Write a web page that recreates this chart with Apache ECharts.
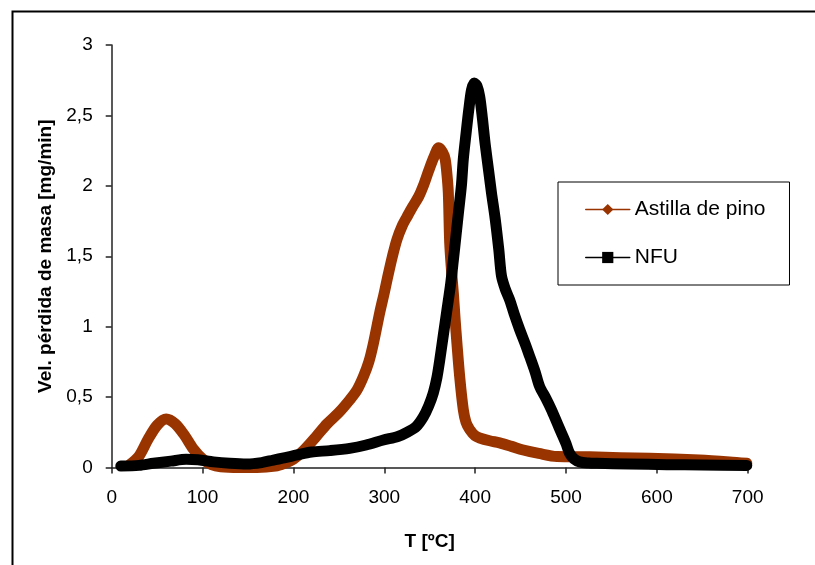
<!DOCTYPE html>
<html>
<head>
<meta charset="utf-8">
<script src="https://cdn.jsdelivr.net/npm/echarts@6/dist/echarts.min.js"></script>
<style>
html,body{margin:0;padding:0;background:#fff;}
#main{width:815px;height:565px;}
</style>
</head>
<body>
<div id="main"></div>
<script>
// Astilla de pino: temperature [ºC] and mass-loss rate [mg/min]
var astT = [20, 30, 40, 50, 60, 70, 80, 90, 100, 110, 120, 140, 160, 180, 190, 200, 211, 225, 237, 250, 262, 270, 277, 283, 288, 295, 300, 304, 309, 314, 320, 325, 331, 338, 343, 349, 355, 360, 364, 367, 369, 370.5, 372, 374, 376, 378, 380, 383, 387, 390, 394, 400, 405, 416, 427, 440, 453, 470, 490, 526, 560, 592, 647, 680, 699];
var astV = [0.02, 0.08, 0.2, 0.3, 0.345, 0.31, 0.23, 0.13, 0.06, 0.02, 0.005, 0.0, 0.0, 0.01, 0.03, 0.06, 0.12, 0.22, 0.31, 0.39, 0.48, 0.55, 0.645, 0.75, 0.88, 1.10, 1.24, 1.36, 1.5, 1.62, 1.72, 1.78, 1.85, 1.925, 2.0, 2.11, 2.21, 2.27, 2.24, 2.19, 2.08, 1.95, 1.6, 1.4, 1.24, 1.05, 0.88, 0.645, 0.41, 0.32, 0.27, 0.225, 0.21, 0.19, 0.175, 0.15, 0.124, 0.1, 0.078, 0.076, 0.07, 0.065, 0.053, 0.04, 0.03];

// NFU
var nfuT = [10, 30, 46, 65, 82, 95, 112, 130, 149, 165, 178, 191, 204, 220, 240, 262, 280, 299, 315, 325, 335, 343, 349, 354, 358, 361, 365, 369, 373, 376, 379, 382, 385, 387, 390, 393, 396, 399, 402, 405, 408, 411, 415, 418, 422, 426, 429, 433, 438, 443, 449, 455, 460, 466, 471, 478, 484, 490, 495, 500, 504, 509, 515, 525, 534, 570, 611, 650, 699];
var nfuV = [0.01, 0.015, 0.03, 0.045, 0.058, 0.055, 0.04, 0.03, 0.025, 0.035, 0.053, 0.07, 0.089, 0.11, 0.12, 0.136, 0.16, 0.195, 0.22, 0.25, 0.29, 0.36, 0.44, 0.53, 0.64, 0.76, 0.94, 1.12, 1.3, 1.47, 1.65, 1.83, 2.01, 2.19, 2.37, 2.54, 2.68, 2.73, 2.71, 2.635, 2.48, 2.30, 2.1, 1.95, 1.77, 1.55, 1.36, 1.27, 1.19, 1.09, 0.98, 0.88, 0.79, 0.68, 0.575, 0.49, 0.41, 0.32, 0.245, 0.17, 0.10, 0.06, 0.04, 0.032, 0.03, 0.025, 0.02, 0.018, 0.015];

var seriesNames = ['Astilla de pino', 'NFU'];
var xTicks = [0, 100, 200, 300, 400, 500, 600, 700];
var yTicks = [0, 0.5, 1, 1.5, 2, 2.5, 3];

function pairs(xs, ys) { return xs.map(function (x, i) { return [x, ys[i]]; }); }

var chart = echarts.init(document.getElementById('main'), null, {renderer: 'canvas'});
var font = 'Liberation Sans, Arial, sans-serif';
chart.setOption({
  animation: false,
  backgroundColor: '#fff',
  textStyle: {fontFamily: font},
  graphic: [{
    type: 'rect', left: 10, top: 9, silent: true,
    shape: {width: 900, height: 700},
    style: {fill: 'none', stroke: '#000', lineWidth: 2}
  }],
  grid: {left: 111.7, right: 67.3, top: 45, bottom: 97.5, containLabel: false},
  legend: {
    orient: 'vertical', left: 558, top: 182,
    padding: [17, 24, 17, 27], itemGap: 27,
    itemWidth: 44, itemHeight: 14,
    borderColor: '#000', borderWidth: 1,
    data: seriesNames,
    lineStyle: {width: 1.5},
    textStyle: {fontFamily: font, fontSize: 21, color: '#000'}
  },
  xAxis: {
    type: 'value', min: xTicks[0], max: xTicks[xTicks.length - 1], interval: 100,
    name: 'T [ºC]', nameLocation: 'middle', nameGap: 65,
    nameTextStyle: {fontFamily: font, fontSize: 19, fontWeight: 'bold', color: '#000'},
    axisLine: {show: true, onZero: false, lineStyle: {color: '#222', width: 1.5}},
    axisTick: {show: true, inside: false, length: 6, lineStyle: {color: '#222', width: 1.5}},
    axisLabel: {margin: 21, fontSize: 19, color: '#000', fontFamily: font},
    splitLine: {show: false}
  },
  yAxis: {
    type: 'value', min: yTicks[0], max: yTicks[yTicks.length - 1], interval: 0.5,
    name: 'Vel. pérdida de masa [mg/min]', nameLocation: 'middle', nameGap: 55,
    nameTextStyle: {fontFamily: font, fontSize: 19, fontWeight: 'bold', color: '#000'},
    axisLine: {show: true, lineStyle: {color: '#222', width: 1.5}},
    axisTick: {show: true, inside: false, length: 6, lineStyle: {color: '#222', width: 1.5}},
    axisLabel: {margin: 19, fontSize: 19, color: '#000', fontFamily: font,
      formatter: function (v) { return String(v).replace('.', ','); }},
    splitLine: {show: false}
  },
  series: [
    {
      name: seriesNames[0], type: 'line', data: pairs(astT, astV),
      showSymbol: false, symbol: 'diamond', symbolSize: 11, smooth: 0.3,
      itemStyle: {color: '#993300'},
      lineStyle: {color: '#993300', width: 11, cap: 'round', join: 'round'},
      z: 2
    },
    {
      name: seriesNames[1], type: 'line', data: pairs(nfuT, nfuV),
      showSymbol: false, symbol: 'rect', symbolSize: 9, smooth: 0.3,
      itemStyle: {color: '#000'},
      lineStyle: {color: '#000', width: 11, cap: 'round', join: 'round'},
      z: 3
    }
  ]
});
</script>
</body>
</html>
